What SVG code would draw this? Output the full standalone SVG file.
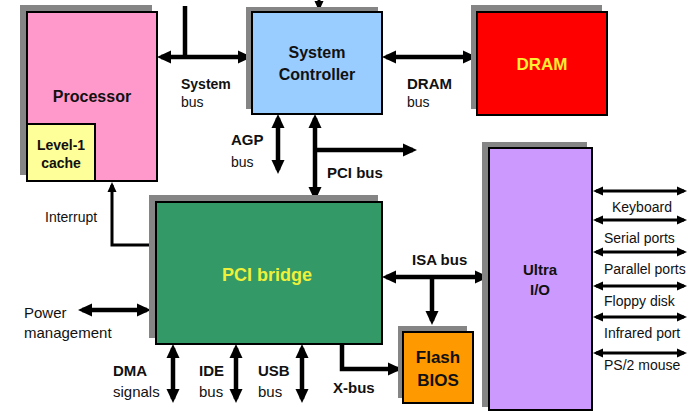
<svg xmlns="http://www.w3.org/2000/svg" width="698" height="411" viewBox="0 0 698 411">
<style>
.sh{fill:#858585}
.bx{stroke:#000;stroke-width:2}
.t{font-family:"Liberation Sans",Arial,sans-serif;fill:#111}
.b{font-weight:bold}
.c{text-anchor:middle}
.w{fill:none;stroke:#000;stroke-width:4.5}
.n{fill:none;stroke:#000;stroke-width:3}
</style>
<defs>
<marker id="a" markerUnits="userSpaceOnUse" markerWidth="15" markerHeight="15" viewBox="0 0 15 15" refX="10" refY="7.5" orient="auto-start-reverse"><path d="M0,1 L14,7.5 L0,14 z" fill="#000"/></marker>
<marker id="s" markerUnits="userSpaceOnUse" markerWidth="11" markerHeight="11" viewBox="0 0 11 11" refX="7" refY="5.5" orient="auto-start-reverse"><path d="M0,1 L10,5.5 L0,10 z" fill="#000"/></marker>
</defs>

<g id="connectors">
<line class="w" x1="185" y1="6" x2="185" y2="57"/>
<line class="w" x1="161" y1="57" x2="248" y2="57" marker-start="url(#a)" marker-end="url(#a)"/>
<line class="w" x1="386" y1="57" x2="473" y2="57" marker-start="url(#a)" marker-end="url(#a)"/>
<line class="n" x1="319" y1="0" x2="319" y2="8" marker-end="url(#s)"/>
<line class="w" x1="278" y1="118" x2="278" y2="170" marker-start="url(#a)" marker-end="url(#a)"/>
<line class="w" x1="315" y1="118" x2="315" y2="197" marker-start="url(#a)" marker-end="url(#a)"/>
<line class="w" x1="315" y1="150" x2="413" y2="150" marker-end="url(#a)"/>
<path class="n" d="M156,245 H112 V185" marker-end="url(#s)"/>
<line class="w" x1="82" y1="310" x2="147" y2="310" marker-start="url(#a)" marker-end="url(#a)"/>
<line class="w" x1="173" y1="348" x2="173" y2="399" marker-start="url(#a)" marker-end="url(#a)"/>
<line class="w" x1="236" y1="348" x2="236" y2="399" marker-start="url(#a)" marker-end="url(#a)"/>
<line class="w" x1="302" y1="348" x2="302" y2="399" marker-start="url(#a)" marker-end="url(#a)"/>
<path class="w" d="M342,344 V369 H398" marker-end="url(#a)"/>
<line class="w" x1="386" y1="277" x2="485" y2="277" marker-start="url(#a)" marker-end="url(#a)"/>
<line class="w" x1="432" y1="277" x2="432" y2="321" marker-end="url(#a)"/>
<line class="n" x1="596" y1="191" x2="684" y2="191" marker-start="url(#s)" marker-end="url(#s)"/>
<line class="n" x1="596" y1="220" x2="684" y2="220" marker-start="url(#s)" marker-end="url(#s)"/>
<line class="n" x1="596" y1="252" x2="684" y2="252" marker-start="url(#s)" marker-end="url(#s)"/>
<line class="n" x1="596" y1="286" x2="684" y2="286" marker-start="url(#s)" marker-end="url(#s)"/>
<line class="n" x1="596" y1="317" x2="684" y2="317" marker-start="url(#s)" marker-end="url(#s)"/>
<line class="n" x1="596" y1="353" x2="684" y2="353" marker-start="url(#s)" marker-end="url(#s)"/>
</g>

<g id="processor">
<rect class="sh" x="20" y="5" width="132" height="170"/>
<rect class="bx" x="27" y="12" width="130" height="169" fill="#FF99CC"/>
<text class="t b c" x="92" y="102" font-size="16">Processor</text>
</g>
<g id="cache">
<rect class="bx" x="27" y="124" width="68" height="57" fill="#FFFF99"/>
<text class="t b c" x="61" y="150" font-size="14">Level-1</text>
<text class="t b c" x="61" y="168" font-size="14">cache</text>
</g>
<g id="system-controller">
<rect class="sh" x="246" y="7" width="132" height="102"/>
<rect class="bx" x="252" y="12" width="130" height="102" fill="#99CCFF"/>
<text class="t b c" x="317" y="58" font-size="16">System</text>
<text class="t b c" x="317" y="80" font-size="16">Controller</text>
</g>
<g id="dram">
<rect class="sh" x="471" y="5" width="131" height="104"/>
<rect class="bx" x="477" y="12" width="130" height="103" fill="#FF0000"/>
<text class="t b c" x="542" y="70" font-size="17" style="fill:#FFEE33">DRAM</text>
</g>
<g id="pci-bridge">
<rect class="sh" x="149" y="195" width="229" height="143"/>
<rect class="bx" x="156" y="202" width="226" height="142" fill="#339966"/>
<text class="t b c" x="267" y="281" font-size="18" style="fill:#EEF03A">PCI bridge</text>
</g>
<g id="flash-bios">
<rect class="sh" x="398" y="326" width="69" height="72"/>
<rect class="bx" x="403" y="332" width="70" height="71" fill="#FF9900"/>
<text class="t b c" x="438" y="363" font-size="17">Flash</text>
<text class="t b c" x="438" y="386" font-size="17">BIOS</text>
</g>
<g id="ultra-io">
<rect class="sh" x="482" y="142" width="105" height="265"/>
<rect class="bx" x="489" y="148" width="103" height="262" fill="#CC99FF"/>
<text class="t b c" x="540" y="275" font-size="15">Ultra</text>
<text class="t b c" x="540" y="295" font-size="15">I/O</text>
</g>

<g id="labels">
<text class="t b" x="181" y="89" font-size="14">System</text>
<text class="t" x="181" y="107" font-size="14">bus</text>
<text class="t b" x="407" y="89" font-size="15">DRAM</text>
<text class="t" x="407" y="107" font-size="14">bus</text>
<text class="t b" x="231" y="145" font-size="15">AGP</text>
<text class="t" x="231" y="167" font-size="14">bus</text>
<text class="t b" x="327" y="178" font-size="15">PCI bus</text>
<text class="t" x="45" y="222" font-size="14">Interrupt</text>
<text class="t" x="24" y="318" font-size="15">Power</text>
<text class="t" x="24" y="338" font-size="15">management</text>
<text class="t b" x="113" y="376" font-size="15">DMA</text>
<text class="t" x="113" y="397" font-size="15">signals</text>
<text class="t b" x="199" y="376" font-size="15">IDE</text>
<text class="t" x="199" y="397" font-size="15">bus</text>
<text class="t b" x="258" y="376" font-size="15">USB</text>
<text class="t" x="258" y="397" font-size="15">bus</text>
<text class="t b" x="333" y="393" font-size="15">X-bus</text>
<text class="t b" x="412" y="265" font-size="15">ISA bus</text>
<text class="t" x="612" y="212" font-size="14">Keyboard</text>
<text class="t" x="604" y="243" font-size="14">Serial ports</text>
<text class="t" x="604" y="274" font-size="14">Parallel ports</text>
<text class="t" x="604" y="306" font-size="14">Floppy disk</text>
<text class="t" x="604" y="338" font-size="14">Infrared port</text>
<text class="t" x="604" y="370" font-size="14">PS/2 mouse</text>
</g>
</svg>
